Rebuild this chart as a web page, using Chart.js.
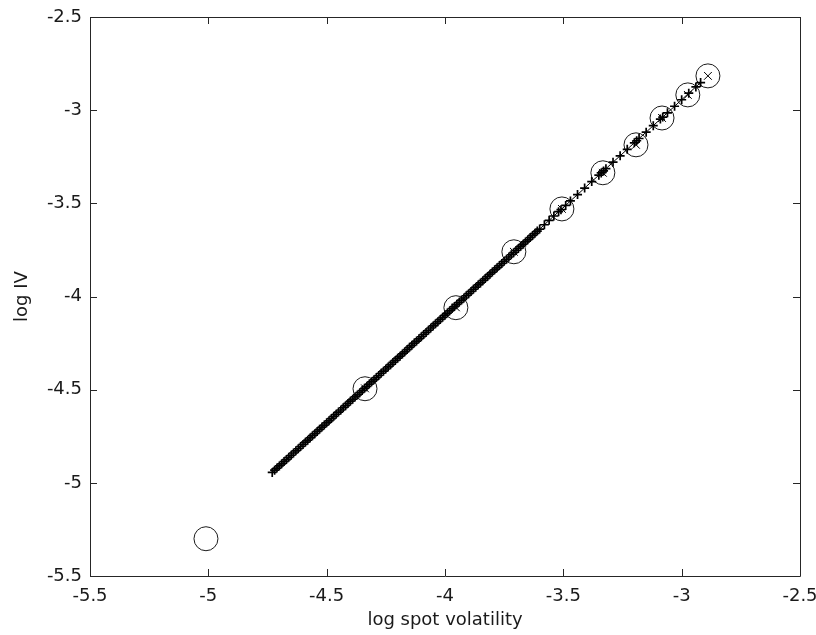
<!DOCTYPE html>
<html lang="en">
<head>
    <meta charset="UTF-8">
    <title>log IV vs log spot volatility</title>
    <script src="https://cdn.jsdelivr.net/npm/chart.js"></script>
    <style>
        html, body { margin: 0; padding: 0; background: #fff; }
        #wrap { width: 816px; height: 635px; }
    </style>
</head>
<body>
    <div id="wrap">
        <canvas id="myChart" width="816" height="635"></canvas>
    </div>
    <script>
    // fitted curve, '+' markers joined by a line
    const plusX = [
        -4.73, -4.72, -4.71, -4.70, -4.69, -4.68, -4.67, -4.66, -4.65, -4.64,
        -4.63, -4.62, -4.61, -4.60, -4.59, -4.58, -4.57, -4.56, -4.55, -4.54,
        -4.53, -4.52, -4.51, -4.50, -4.49, -4.48, -4.47, -4.46, -4.45, -4.44,
        -4.43, -4.42, -4.41, -4.40, -4.39, -4.38, -4.37, -4.36, -4.35, -4.34,
        -4.33, -4.32, -4.31, -4.30, -4.29, -4.28, -4.27, -4.26, -4.25, -4.24,
        -4.23, -4.22, -4.21, -4.20, -4.19, -4.18, -4.17, -4.16, -4.15, -4.14,
        -4.13, -4.12, -4.11, -4.10, -4.09, -4.08, -4.07, -4.06, -4.05, -4.04,
        -4.03, -4.02, -4.01, -4.00, -3.99, -3.98, -3.97, -3.96, -3.95, -3.94,
        -3.93, -3.92, -3.91, -3.90, -3.89, -3.88, -3.87, -3.86, -3.85, -3.84,
        -3.83, -3.82, -3.81, -3.80, -3.79, -3.78, -3.77, -3.76, -3.75, -3.74,
        -3.73, -3.72, -3.71, -3.70, -3.69, -3.68, -3.67, -3.66, -3.65, -3.64,
        -3.63, -3.62, -3.61, -3.60,
        -3.58, -3.56, -3.54, -3.52, -3.51, -3.49, -3.47, -3.44, -3.41, -3.38,
        -3.35, -3.34, -3.33, -3.32, -3.29, -3.26, -3.23, -3.20, -3.19, -3.18,
        -3.15, -3.12, -3.09, -3.08, -3.06, -3.03, -3.00, -2.97, -2.94, -2.92
    ];
    const plusY = [
        -4.944, -4.932, -4.921, -4.909, -4.898, -4.886, -4.875, -4.863, -4.852, -4.840,
        -4.828, -4.817, -4.805, -4.794, -4.782, -4.771, -4.759, -4.747, -4.736, -4.724,
        -4.713, -4.701, -4.690, -4.678, -4.667, -4.655, -4.643, -4.632, -4.620, -4.609,
        -4.597, -4.586, -4.574, -4.562, -4.551, -4.539, -4.528, -4.516, -4.505, -4.493,
        -4.482, -4.470, -4.458, -4.447, -4.435, -4.424, -4.412, -4.401, -4.389, -4.378,
        -4.366, -4.354, -4.343, -4.331, -4.320, -4.308, -4.297, -4.285, -4.273, -4.262,
        -4.250, -4.239, -4.227, -4.216, -4.204, -4.193, -4.181, -4.169, -4.158, -4.146,
        -4.135, -4.123, -4.112, -4.100, -4.089, -4.077, -4.065, -4.054, -4.042, -4.031,
        -4.019, -4.008, -3.996, -3.985, -3.973, -3.961, -3.950, -3.938, -3.927, -3.915,
        -3.904, -3.892, -3.880, -3.869, -3.857, -3.846, -3.834, -3.823, -3.811, -3.800,
        -3.788, -3.776, -3.765, -3.753, -3.742, -3.730, -3.719, -3.707, -3.696, -3.684,
        -3.672, -3.661, -3.649, -3.638,
        -3.615, -3.591, -3.568, -3.545, -3.534, -3.511, -3.487, -3.453, -3.418, -3.383,
        -3.349, -3.337, -3.326, -3.314, -3.279, -3.245, -3.210, -3.175, -3.164, -3.152,
        -3.118, -3.083, -3.048, -3.037, -3.014, -2.979, -2.944, -2.909, -2.875, -2.852
    ];

    // observed points, circles
    const circleX = [-5.01, -4.338, -3.954, -3.709, -3.506, -3.333, -3.193, -3.083, -2.974, -2.889];
    const circleY = [-5.30, -4.495, -4.060, -3.760, -3.530, -3.336, -3.186, -3.042, -2.918, -2.816];

    // model values, 'x' markers
    const crossX = [-4.338, -3.954, -3.709, -3.506, -3.333, -3.193, -3.083, -2.974, -2.889];
    const crossY = [-4.493, -4.058, -3.760, -3.530, -3.336, -3.186, -3.042, -2.918, -2.816];

    const xTicks = [-5.5, -5, -4.5, -4, -3.5, -3, -2.5];
    const yTicks = [-5.5, -5, -4.5, -4, -3.5, -3, -2.5];

    const toPoints = (xs, ys) => xs.map((x, i) => ({ x: x, y: ys[i] }));

    const axisColor = '#262626';
    const textColor = '#1a1a1a';
    const fontSpec = { family: 'DejaVu Sans', size: 18 };

    // box around the axes with inward ticks on all four sides
    const boxPlugin = {
        id: 'matlabBox',
        afterDraw(chart) {
            const { ctx, chartArea: a, scales } = chart;
            const len = 7;
            ctx.save();
            ctx.strokeStyle = axisColor;
            ctx.lineWidth = 1;
            ctx.beginPath();
            ctx.rect(Math.round(a.left) + 0.5, Math.round(a.top) + 0.5,
                     Math.round(a.right - a.left), Math.round(a.bottom - a.top));
            scales.x.ticks.forEach(t => {
                const px = Math.round(scales.x.getPixelForValue(t.value)) + 0.5;
                ctx.moveTo(px, a.bottom);
                ctx.lineTo(px, a.bottom - len);
                ctx.moveTo(px, a.top);
                ctx.lineTo(px, a.top + len);
            });
            scales.y.ticks.forEach(t => {
                const py = Math.round(scales.y.getPixelForValue(t.value)) + 0.5;
                ctx.moveTo(a.left, py);
                ctx.lineTo(a.left + len, py);
                ctx.moveTo(a.right, py);
                ctx.lineTo(a.right - len, py);
            });
            ctx.stroke();
            ctx.restore();
        }
    };

    const ctx = document.getElementById('myChart').getContext('2d');
    const myChart = new Chart(ctx, {
        type: 'scatter',
        data: {
            datasets: [
                {
                    label: 'fit',
                    data: toPoints(plusX, plusY),
                    showLine: true,
                    borderColor: '#000',
                    borderWidth: 1,
                    pointStyle: 'cross',
                    pointRadius: 4.5,
                    pointBorderColor: '#000',
                    pointBorderWidth: 1.7
                },
                {
                    label: 'model',
                    data: toPoints(crossX, crossY),
                    pointStyle: 'crossRot',
                    pointRadius: 5.5,
                    pointBorderColor: '#000',
                    pointBorderWidth: 1
                },
                {
                    label: 'observed',
                    data: toPoints(circleX, circleY),
                    pointStyle: 'circle',
                    pointRadius: 12,
                    pointBackgroundColor: 'rgba(0,0,0,0)',
                    pointBorderColor: '#1a1a1a',
                    pointBorderWidth: 1
                }
            ]
        },
        options: {
            responsive: false,
            animation: false,
            layout: { padding: { left: 0, right: 16, top: 17, bottom: 0 } },
            scales: {
                x: {
                    type: 'linear',
                    min: -5.5,
                    max: -2.5,
                    afterBuildTicks: s => { s.ticks = xTicks.map(v => ({ value: v })); },
                    afterFit: s => {
                        s.height = 59;
                        s.paddingLeft = 0;
                        s.paddingRight = 0;
                    },
                    grid: { display: false, drawTicks: false },
                    border: { display: false },
                    ticks: {
                        padding: 10,
                        color: textColor,
                        font: fontSpec,
                        maxRotation: 0,
                        callback: v => String(v)
                    },
                    title: {
                        display: true,
                        text: 'log spot volatility',
                        color: textColor,
                        font: fontSpec,
                        padding: { top: 0, bottom: 4 }
                    }
                },
                y: {
                    type: 'linear',
                    min: -5.5,
                    max: -2.5,
                    afterBuildTicks: s => { s.ticks = yTicks.map(v => ({ value: v })); },
                    afterFit: s => {
                        s.width = 90;
                        s.paddingTop = 0;
                        s.paddingBottom = 0;
                    },
                    grid: { display: false, drawTicks: false },
                    border: { display: false },
                    ticks: {
                        padding: 8,
                        color: textColor,
                        font: fontSpec,
                        callback: v => String(v)
                    },
                    title: {
                        display: true,
                        text: 'log IV',
                        color: textColor,
                        font: fontSpec,
                        padding: { top: 12, bottom: 0 }
                    }
                }
            },
            plugins: {
                legend: { display: false },
                tooltip: { enabled: false }
            }
        },
        plugins: [boxPlugin]
    });
    </script>
</body>
</html>
